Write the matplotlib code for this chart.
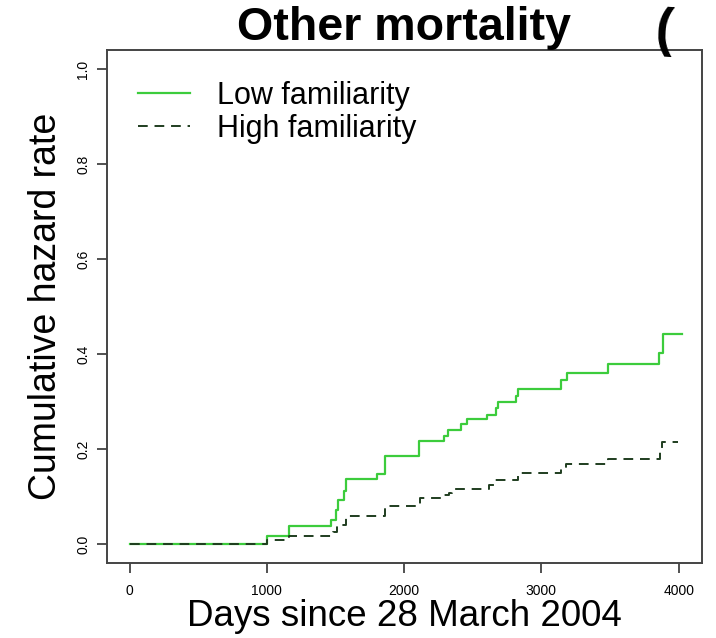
import matplotlib
matplotlib.use("Agg")
import matplotlib.pyplot as plt
import numpy as np

plt.rcParams['font.family'] = ['Liberation Sans', 'DejaVu Sans']

# cumulative hazard (Nelson-Aalen style steps)
low_days = [0, 1000, 1161, 1467, 1504, 1518, 1562, 1577, 1803, 1861, 2109,
            2292, 2321, 2416, 2460, 2606, 2672, 2686, 2818, 2832, 3146,
            3190, 3489, 3854, 3883, 4022]
low_haz = [0.0, 0.017, 0.038, 0.050, 0.071, 0.092, 0.111, 0.136, 0.148, 0.185,
           0.217, 0.227, 0.239, 0.252, 0.263, 0.271, 0.286, 0.298, 0.311,
           0.327, 0.345, 0.359, 0.379, 0.403, 0.442, 0.442]

high_days = [0, 1000, 1161, 1482, 1511, 1577, 1861, 2117, 2277, 2328, 2350,
             2620, 2657, 2832, 3146, 3182, 3489, 3861, 3876, 3993]
high_haz = [0.0, 0.008, 0.017, 0.025, 0.040, 0.059, 0.080, 0.097, 0.103,
            0.107, 0.116, 0.125, 0.134, 0.149, 0.158, 0.168, 0.178, 0.193,
            0.214, 0.214]

x_ticks = [0, 1000, 2000, 3000, 4000]
y_ticks = [0.0, 0.2, 0.4, 0.6, 0.8, 1.0]

low_col = '#3ccc3c'
high_col = '#1f3d1f'


def main():
    fig = plt.figure(figsize=(7.16, 6.38), dpi=100)
    ax = fig.add_axes([0.1494, 0.1176, 0.831, 0.804])

    ax.step(low_days, low_haz, where='post', color=low_col, lw=1.6,
            label='Low familiarity')
    ax.step(high_days, high_haz, where='post', color=high_col, lw=1.4,
            ls=(0, (5, 3.5)), label='High familiarity')

    ax.set_xlim(-165, 4170)
    ax.set_ylim(-0.04, 1.04)
    ax.set_xticks(x_ticks)
    ax.set_xticklabels([str(t) for t in x_ticks], fontsize=10)
    ax.set_yticks(y_ticks)
    ax.set_yticklabels(['%.1f' % t for t in y_ticks], fontsize=10,
                       rotation=90, va='center')
    ax.tick_params(axis='both', direction='out', length=7, width=1.2,
                   color='#333333')
    ax.tick_params(axis='x', pad=8)
    ax.tick_params(axis='y', pad=5)
    for s in ax.spines.values():
        s.set_color('#444444')
        s.set_linewidth(1.4)

    ax.set_xlabel('Days since 28 March 2004', fontsize=26.5, labelpad=1)
    ax.set_ylabel('Cumulative hazard rate', fontsize=27, labelpad=9)
    ax.set_title('Other mortality', fontsize=33.5, fontweight='bold', pad=5)

    ax.legend(loc='upper left', bbox_to_anchor=(0.006, 0.993), frameon=False,
              fontsize=22, handlelength=1.7, handletextpad=0.9,
              labelspacing=0.1)

    # stray bracket at the top right corner of the scanned figure
    fig.text(0.927, 0.928, '(', fontsize=38, fontweight='bold',
             ha='center', va='baseline', rotation=-4)

    fig.savefig('out.png', dpi=100)


if __name__ == "__main__":
    main()
